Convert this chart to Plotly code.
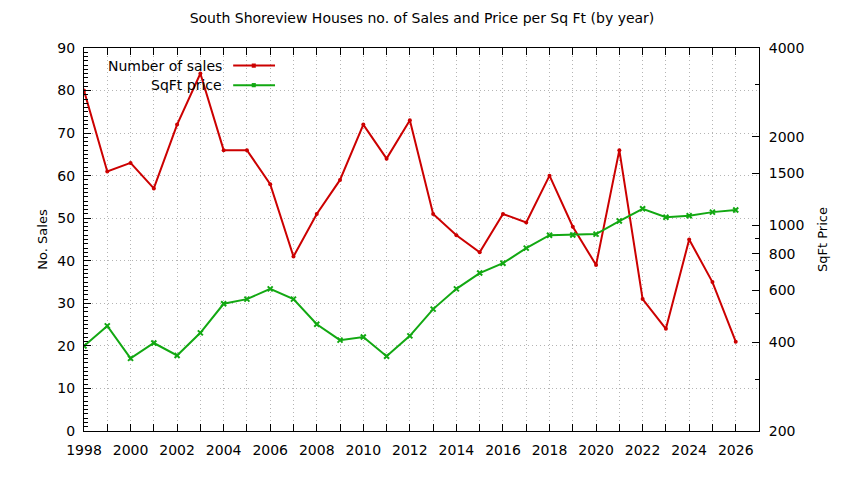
import plotly.graph_objects as go

years = list(range(1998, 2027))
sales = [80, 61, 63, 57, 72, 84, 66, 66, 58, 41, 51, 59, 72, 64, 73,
         51, 46, 42, 51, 49, 60, 48, 39, 66, 31, 24, 45, 35, 21]
sqft_price = [389, 455, 353, 398, 361, 431, 541, 561, 608, 561, 461, 407, 417, 359, 421,
              519, 608, 688, 743, 836, 925, 927, 933, 1033, 1137, 1065, 1077, 1108, 1126]

y2_ticks = [200, 400, 600, 800, 1000, 1500, 2000, 4000]
y2_minor = [300, 500, 700, 900, 3000]

red = "#cc0000"
green = "#12a812"
font = "DejaVu Sans"
grid = "#b4b4b4"

fig = go.Figure()
fig.add_trace(go.Scatter(x=years, y=sales, name="Number of sales", mode="lines+markers",
                         line=dict(color=red, width=2),
                         marker=dict(symbol="circle", size=4, color=red)))
fig.add_trace(go.Scatter(x=years, y=sqft_price, name="SqFt price", mode="lines+markers",
                         yaxis="y2", line=dict(color=green, width=2),
                         marker=dict(symbol="x-thin", size=5, color=green,
                                     line=dict(color=green, width=2))))

# year ticks every year, labels every second year
xlabels = [str(y) if y % 2 == 0 else "" for y in years]

fig.update_layout(
    width=844, height=480,
    margin=dict(l=84, r=85, t=48, b=49),
    plot_bgcolor="white", paper_bgcolor="white",
    font=dict(family=font, size=14, color="#000000"),
    showlegend=False,
    title=dict(text="South Shoreview Houses no. of Sales and Price per Sq Ft (by year)",
               x=0.5, xanchor="center", y=0.963, yanchor="middle",
               font=dict(size=14)),
    xaxis=dict(range=[1998, 2027], tickvals=years, ticktext=xlabels, automargin=False,
               ticks="inside", ticklen=7, tickcolor="black", showline=True,
               linecolor="black", linewidth=1, mirror="ticks", ticklabelstandoff=6,
               showgrid=True, griddash="1px,3px", gridcolor=grid, gridwidth=1,
               zeroline=False, tickfont=dict(size=14)),
    yaxis=dict(range=[0, 90], dtick=10, ticks="inside", ticklen=7, tickcolor="black",
               showline=True, linecolor="black", linewidth=1, automargin=False,
               showgrid=True, griddash="1px,3px", gridcolor=grid, ticklabelstandoff=5,
               zeroline=False, tickfont=dict(size=14),
               minor=dict(dtick=1, ticks="inside", ticklen=4, tickcolor="black", showgrid=False),
               title=dict(text="No. Sales", standoff=6, font=dict(size=13))),
    yaxis2=dict(type="log", range=[2.30103, 3.60206], overlaying="y", side="right",
                tickvals=y2_ticks, ticktext=[str(v) for v in y2_ticks], automargin=False,
                ticks="inside", ticklen=7, tickcolor="black", ticklabelstandoff=6,
                showline=True, linecolor="black", linewidth=1,
                showgrid=False, zeroline=False, tickfont=dict(size=14),
                minor=dict(tickmode="array", tickvals=y2_minor, ticks="inside",
                           ticklen=4, tickcolor="black", showgrid=False),
                title=dict(text="SqFt Price", standoff=14, font=dict(size=13))),
)

# key in the top-left corner, text on the left of the sample line as in the original
keys = [("Number of sales", red, 0.954), ("SqFt price", green, 0.903)]
for label, col, ky in keys:
    fig.add_annotation(x=0.207, y=ky, xref="paper", yref="paper", text=label,
                       showarrow=False, xanchor="right", yanchor="middle",
                       font=dict(size=14))
    fig.add_shape(type="line", xref="paper", yref="paper", x0=0.221, x1=0.283,
                  y0=ky, y1=ky, line=dict(color=col, width=2))
    fig.add_shape(type="rect", xref="paper", yref="paper", x0=0.2485, x1=0.2545,
                  y0=ky - 0.0055, y1=ky + 0.0055, fillcolor=col, line=dict(color=col, width=0))

# drop the default page margin so the figure sits at the top-left corner
fig.write_html("out.html", config={"displayModeBar": False},
               post_script="document.body.style.margin='0';")
